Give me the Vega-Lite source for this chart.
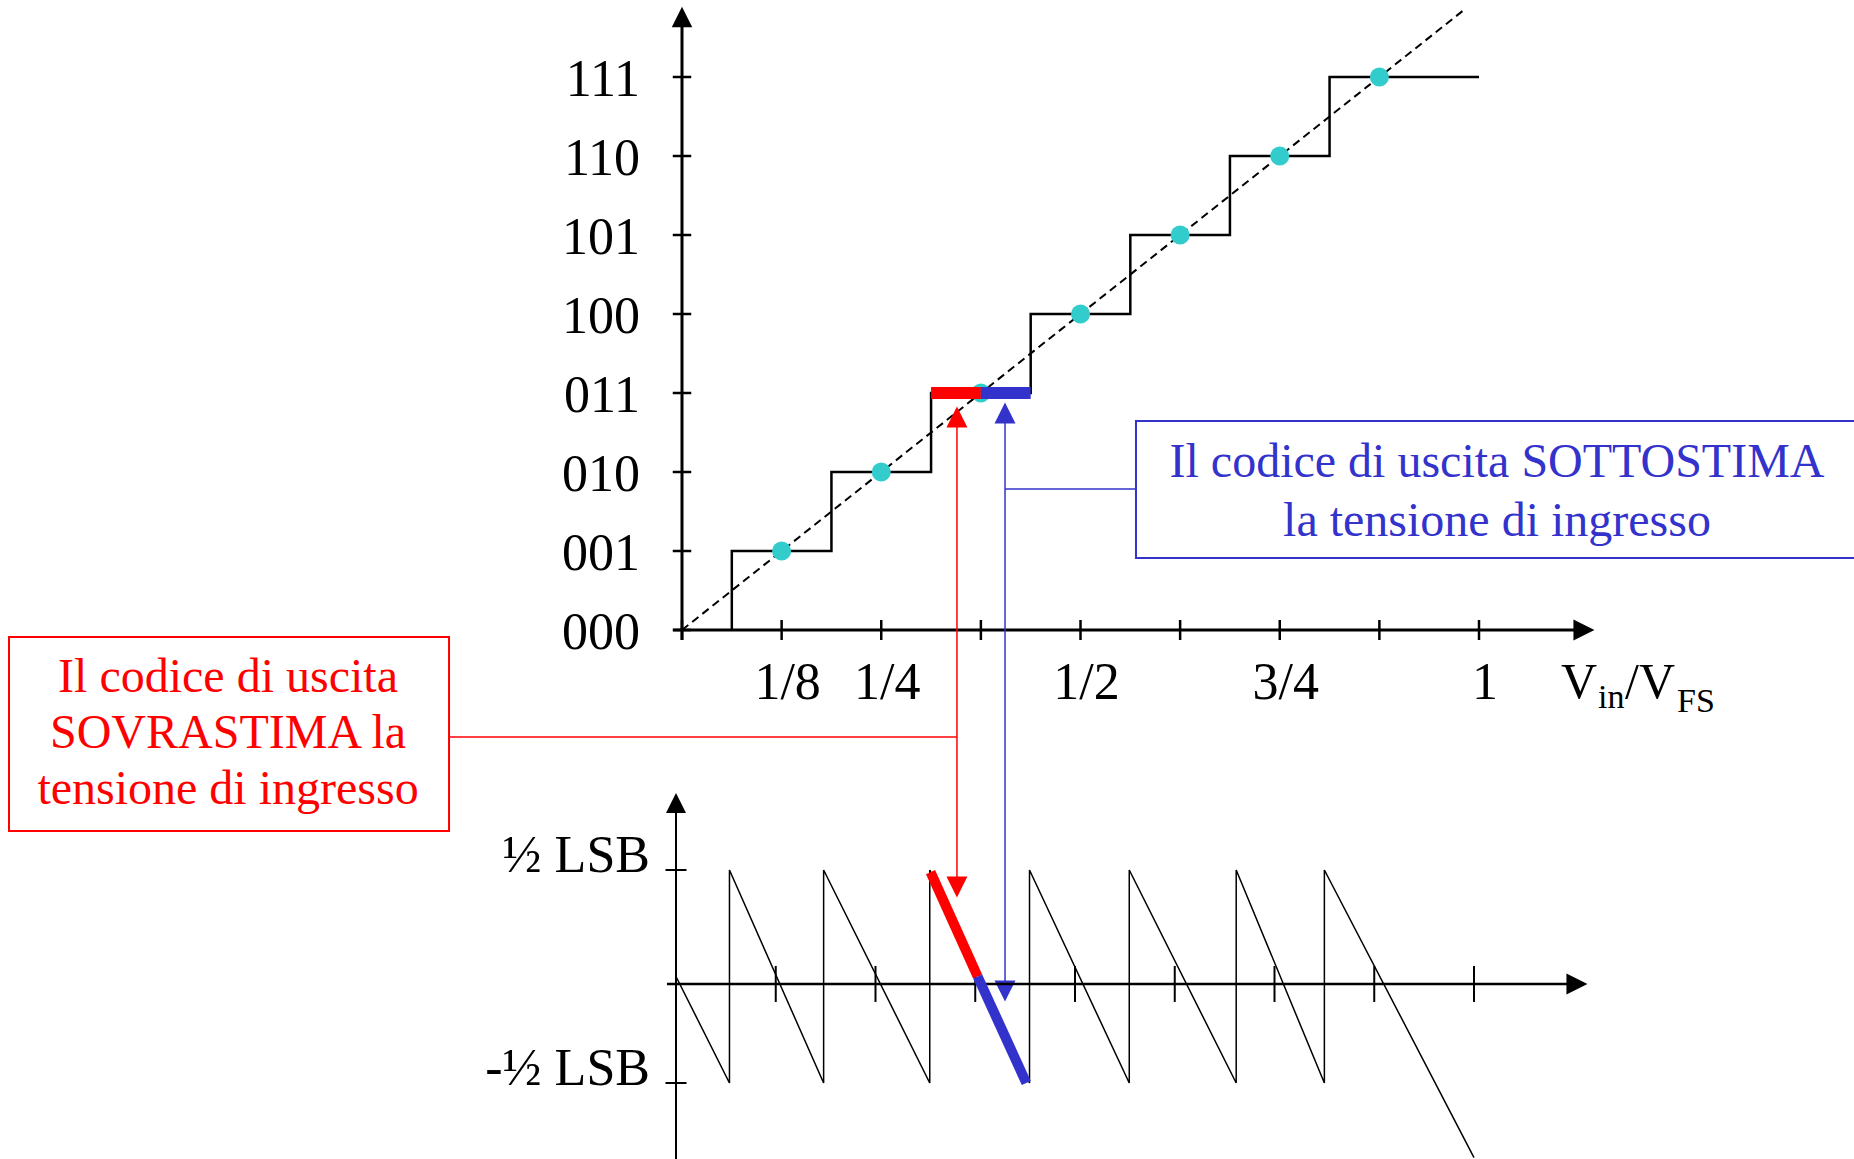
{
  "$schema": "https://vega.github.io/schema/vega-lite/v6.json",
  "width": 1854,
  "height": 1159,
  "autosize": {"type": "none"},
  "padding": 0,
  "background": "white",
  "config": {
    "view": {"stroke": null},
    "axis": {"disable": true},
    "legend": {"disable": true},
    "font": "Liberation Serif",
    "text": {"font": "Liberation Serif"}
  },
  "datasets": {
    "codes": [
      {"code": 0, "label": "000"}, {"code": 1, "label": "001"}, {"code": 2, "label": "010"}, {"code": 3, "label": "011"},
      {"code": 4, "label": "100"}, {"code": 5, "label": "101"}, {"code": 6, "label": "110"}, {"code": 7, "label": "111"}
    ],
    "xticks": [
      {"v": 0}, {"v": 0.125}, {"v": 0.25}, {"v": 0.375}, {"v": 0.5}, {"v": 0.625}, {"v": 0.75}, {"v": 0.875}, {"v": 1}
    ],
    "xlabels": [
      {"v": 0.125, "label": "1/8"}, {"v": 0.25, "label": "1/4"}, {"v": 0.5, "label": "1/2"}, {"v": 0.75, "label": "3/4"}, {"v": 1, "label": "1"}
    ],
    "staircase": [
      {"i": 0, "vin": 0.0625, "code": 0}, {"i": 1, "vin": 0.0625, "code": 1}, {"i": 2, "vin": 0.1875, "code": 1},
      {"i": 3, "vin": 0.1875, "code": 2}, {"i": 4, "vin": 0.3125, "code": 2}, {"i": 5, "vin": 0.3125, "code": 3},
      {"i": 6, "vin": 0.4375, "code": 3}, {"i": 7, "vin": 0.4375, "code": 4}, {"i": 8, "vin": 0.5625, "code": 4},
      {"i": 9, "vin": 0.5625, "code": 5}, {"i": 10, "vin": 0.6875, "code": 5}, {"i": 11, "vin": 0.6875, "code": 6},
      {"i": 12, "vin": 0.8125, "code": 6}, {"i": 13, "vin": 0.8125, "code": 7}, {"i": 14, "vin": 1.0, "code": 7}
    ],
    "ideal": [{"vin": 0, "code": 0}, {"vin": 0.98, "code": 7.84}],
    "centers": [
      {"vin": 0.125, "code": 1}, {"vin": 0.25, "code": 2}, {"vin": 0.375, "code": 3}, {"vin": 0.5, "code": 4},
      {"vin": 0.625, "code": 5}, {"vin": 0.75, "code": 6}, {"vin": 0.875, "code": 7}
    ],
    "codeerr": [
      {"vin": 0.3125, "vin2": 0.375, "code": 3, "kind": "sovrastima"},
      {"vin": 0.375, "vin2": 0.4375, "code": 3, "kind": "sottostima"}
    ],
    "lsb": [{"e": 0.5, "label": "½ LSB"}, {"e": -0.5, "label": "-½ LSB"}],
    "error": [
      {"i": 0, "vin": 0, "e": 0}, {"i": 1, "vin": 0.067, "e": -0.5}, {"i": 2, "vin": 0.067, "e": 0.5},
      {"i": 3, "vin": 0.185, "e": -0.5}, {"i": 4, "vin": 0.185, "e": 0.5}, {"i": 5, "vin": 0.318, "e": -0.5},
      {"i": 6, "vin": 0.318, "e": 0.5}, {"i": 7, "vin": 0.443, "e": -0.5}, {"i": 8, "vin": 0.443, "e": 0.5},
      {"i": 9, "vin": 0.568, "e": -0.5}, {"i": 10, "vin": 0.568, "e": 0.5}, {"i": 11, "vin": 0.702, "e": -0.5},
      {"i": 12, "vin": 0.702, "e": 0.5}, {"i": 13, "vin": 0.8125, "e": -0.5}, {"i": 14, "vin": 0.8125, "e": 0.5},
      {"i": 15, "vin": 1.0, "e": -0.85}
    ],
    "errhl": [
      {"vin": 0.319, "e": 0.49, "kind": "sovrastima"}, {"vin": 0.378, "e": 0, "kind": "sovrastima"},
      {"vin": 0.378, "e": 0, "kind": "sottostima"}, {"vin": 0.439, "e": -0.5, "kind": "sottostima"}
    ]
  },
  "resolve": {"scale": {"x": "independent", "y": "independent", "color": "independent"}},
  "layer": [
    {
      "layer": [
        {"data": {"values": [{}]}, "mark": {"type": "rule", "color": "black", "strokeWidth": 3},
         "encoding": {
           "x": {"datum": 0, "type": "quantitative", "scale": {"domain": [-0.85571, 1.47051], "nice": false, "zero": false}},
           "y": {"datum": -0.127, "type": "quantitative", "scale": {"domain": [-6.6962, 7.9747], "nice": false, "zero": false}},
           "y2": {"datum": 7.7}}},
        {"data": {"values": [{}]}, "mark": {"type": "point", "shape": "M0,-1L1,1L-1,1Z", "filled": true, "color": "black", "opacity": 1, "size": 420, "strokeWidth": 0},
         "encoding": {
           "x": {"datum": 0, "type": "quantitative", "scale": {"domain": [-0.85571, 1.47051], "nice": false, "zero": false}},
           "y": {"datum": 7.759, "type": "quantitative", "scale": {"domain": [-6.6962, 7.9747], "nice": false, "zero": false}}}},
        {"data": {"values": [{}]}, "mark": {"type": "rule", "color": "black", "strokeWidth": 3},
         "encoding": {
           "x": {"datum": -0.0113, "type": "quantitative", "scale": {"domain": [-0.85571, 1.47051], "nice": false, "zero": false}},
           "x2": {"datum": 1.125},
           "y": {"datum": 0, "type": "quantitative", "scale": {"domain": [-6.6962, 7.9747], "nice": false, "zero": false}}}},
        {"data": {"values": [{}]}, "mark": {"type": "point", "shape": "M1,0L-1,-1L-1,1Z", "filled": true, "color": "black", "opacity": 1, "size": 441, "strokeWidth": 0},
         "encoding": {
           "x": {"datum": 1.1317, "type": "quantitative", "scale": {"domain": [-0.85571, 1.47051], "nice": false, "zero": false}},
           "y": {"datum": 0, "type": "quantitative", "scale": {"domain": [-6.6962, 7.9747], "nice": false, "zero": false}}}},
        {"data": {"name": "codes"}, "mark": {"type": "point", "shape": "M-1,0H1", "filled": false, "color": "black", "opacity": 1, "size": 342, "strokeWidth": 2.5},
         "encoding": {
           "x": {"datum": 0, "type": "quantitative", "scale": {"domain": [-0.85571, 1.47051], "nice": false, "zero": false}},
           "y": {"field": "code", "type": "quantitative", "scale": {"domain": [-6.6962, 7.9747], "nice": false, "zero": false}}}},
        {"data": {"name": "xticks"}, "mark": {"type": "point", "shape": "M0,-1V1", "filled": false, "color": "black", "opacity": 1, "size": 400, "strokeWidth": 2.5},
         "encoding": {
           "x": {"field": "v", "type": "quantitative", "scale": {"domain": [-0.85571, 1.47051], "nice": false, "zero": false}},
           "y": {"datum": 0, "type": "quantitative", "scale": {"domain": [-6.6962, 7.9747], "nice": false, "zero": false}}}},
        {"data": {"name": "codes"}, "mark": {"type": "text", "align": "right", "baseline": "middle", "dy": 3, "fontSize": 52, "color": "black"},
         "encoding": {
           "x": {"datum": -0.0527, "type": "quantitative", "scale": {"domain": [-0.85571, 1.47051], "nice": false, "zero": false}},
           "y": {"field": "code", "type": "quantitative", "scale": {"domain": [-6.6962, 7.9747], "nice": false, "zero": false}},
           "text": {"field": "label"}}},
        {"data": {"name": "xlabels"}, "mark": {"type": "text", "align": "center", "baseline": "top", "dx": 6, "dy": 28, "fontSize": 52, "color": "black"},
         "encoding": {
           "x": {"field": "v", "type": "quantitative", "scale": {"domain": [-0.85571, 1.47051], "nice": false, "zero": false}},
           "y": {"datum": 0, "type": "quantitative", "scale": {"domain": [-6.6962, 7.9747], "nice": false, "zero": false}},
           "text": {"field": "label"}}},
        {"data": {"values": [{}]}, "mark": {"type": "text", "text": "V", "align": "left", "baseline": "alphabetic", "fontSize": 50, "color": "black"},
         "encoding": {
           "x": {"datum": 1.1029, "type": "quantitative", "scale": {"domain": [-0.85571, 1.47051], "nice": false, "zero": false}},
           "y": {"datum": -0.8608, "type": "quantitative", "scale": {"domain": [-6.6962, 7.9747], "nice": false, "zero": false}}}},
        {"data": {"values": [{}]}, "mark": {"type": "text", "text": "in", "align": "left", "baseline": "alphabetic", "fontSize": 34, "color": "black"},
         "encoding": {
           "x": {"datum": 1.1493, "type": "quantitative", "scale": {"domain": [-0.85571, 1.47051], "nice": false, "zero": false}},
           "y": {"datum": -0.9873, "type": "quantitative", "scale": {"domain": [-6.6962, 7.9747], "nice": false, "zero": false}}}},
        {"data": {"values": [{}]}, "mark": {"type": "text", "text": "/V", "align": "left", "baseline": "alphabetic", "fontSize": 50, "color": "black"},
         "encoding": {
           "x": {"datum": 1.1832, "type": "quantitative", "scale": {"domain": [-0.85571, 1.47051], "nice": false, "zero": false}},
           "y": {"datum": -0.8608, "type": "quantitative", "scale": {"domain": [-6.6962, 7.9747], "nice": false, "zero": false}}}},
        {"data": {"values": [{}]}, "mark": {"type": "text", "text": "FS", "align": "left", "baseline": "alphabetic", "fontSize": 34, "color": "black"},
         "encoding": {
           "x": {"datum": 1.2484, "type": "quantitative", "scale": {"domain": [-0.85571, 1.47051], "nice": false, "zero": false}},
           "y": {"datum": -1.038, "type": "quantitative", "scale": {"domain": [-6.6962, 7.9747], "nice": false, "zero": false}}}},
        {"data": {"name": "staircase"}, "mark": {"type": "line", "color": "black", "strokeWidth": 2.5, "strokeJoin": "miter"},
         "encoding": {
           "x": {"field": "vin", "type": "quantitative", "scale": {"domain": [-0.85571, 1.47051], "nice": false, "zero": false}},
           "y": {"field": "code", "type": "quantitative", "scale": {"domain": [-6.6962, 7.9747], "nice": false, "zero": false}},
           "order": {"field": "i", "type": "quantitative"}}},
        {"data": {"name": "ideal"}, "mark": {"type": "line", "color": "black", "strokeWidth": 2, "strokeDash": [8, 5]},
         "encoding": {
           "x": {"field": "vin", "type": "quantitative", "scale": {"domain": [-0.85571, 1.47051], "nice": false, "zero": false}},
           "y": {"field": "code", "type": "quantitative", "scale": {"domain": [-6.6962, 7.9747], "nice": false, "zero": false}}}},
        {"data": {"name": "centers"}, "mark": {"type": "point", "shape": "circle", "filled": true, "color": "#33CCCC", "opacity": 1, "size": 361, "strokeWidth": 0},
         "encoding": {
           "x": {"field": "vin", "type": "quantitative", "scale": {"domain": [-0.85571, 1.47051], "nice": false, "zero": false}},
           "y": {"field": "code", "type": "quantitative", "scale": {"domain": [-6.6962, 7.9747], "nice": false, "zero": false}}}},
        {"data": {"name": "codeerr"}, "mark": {"type": "rule", "strokeWidth": 12, "strokeCap": "butt"},
         "encoding": {
           "x": {"field": "vin", "type": "quantitative", "scale": {"domain": [-0.85571, 1.47051], "nice": false, "zero": false}},
           "x2": {"field": "vin2"},
           "y": {"field": "code", "type": "quantitative", "scale": {"domain": [-6.6962, 7.9747], "nice": false, "zero": false}},
           "color": {"field": "kind", "type": "nominal", "scale": {"domain": ["sovrastima", "sottostima"], "range": ["#FF0000", "#3333CC"]}, "legend": null}}},
        {"data": {"values": [{}]}, "mark": {"type": "rule", "color": "#FF0000", "strokeWidth": 1.5},
         "encoding": {
           "x": {"datum": -0.2923, "type": "quantitative", "scale": {"domain": [-0.85571, 1.47051], "nice": false, "zero": false}},
           "x2": {"datum": 0.345},
           "y": {"datum": -1.354, "type": "quantitative", "scale": {"domain": [-6.6962, 7.9747], "nice": false, "zero": false}}}},
        {"data": {"values": [{}]}, "mark": {"type": "rule", "color": "#3333CC", "strokeWidth": 1.5},
         "encoding": {
           "x": {"datum": 0.4053, "type": "quantitative", "scale": {"domain": [-0.85571, 1.47051], "nice": false, "zero": false}},
           "x2": {"datum": 0.5696},
           "y": {"datum": 1.785, "type": "quantitative", "scale": {"domain": [-6.6962, 7.9747], "nice": false, "zero": false}}}},
        {"data": {"values": [{}]}, "mark": {"type": "rule", "color": "#FF0000", "strokeWidth": 1.5},
         "encoding": {
           "x": {"datum": 0.345, "type": "quantitative", "scale": {"domain": [-0.85571, 1.47051], "nice": false, "zero": false}},
           "y": {"datum": 2.57, "type": "quantitative", "scale": {"domain": [-6.6962, 7.9747], "nice": false, "zero": false}},
           "y2": {"datum": -3.127}}},
        {"data": {"values": [{}]}, "mark": {"type": "rule", "color": "#3333CC", "strokeWidth": 1.5},
         "encoding": {
           "x": {"datum": 0.4053, "type": "quantitative", "scale": {"domain": [-0.85571, 1.47051], "nice": false, "zero": false}},
           "y": {"datum": 2.62, "type": "quantitative", "scale": {"domain": [-6.6962, 7.9747], "nice": false, "zero": false}},
           "y2": {"datum": -4.443}}},
        {"data": {"values": [{}]}, "mark": {"type": "point", "shape": "M0,-1L1,1L-1,1Z", "filled": true, "color": "#FF0000", "opacity": 1, "size": 441, "strokeWidth": 0},
         "encoding": {
           "x": {"datum": 0.345, "type": "quantitative", "scale": {"domain": [-0.85571, 1.47051], "nice": false, "zero": false}},
           "y": {"datum": 2.696, "type": "quantitative", "scale": {"domain": [-6.6962, 7.9747], "nice": false, "zero": false}}}},
        {"data": {"values": [{}]}, "mark": {"type": "point", "shape": "M0,-1L1,1L-1,1Z", "filled": true, "color": "#3333CC", "opacity": 1, "size": 441, "strokeWidth": 0},
         "encoding": {
           "x": {"datum": 0.4053, "type": "quantitative", "scale": {"domain": [-0.85571, 1.47051], "nice": false, "zero": false}},
           "y": {"datum": 2.747, "type": "quantitative", "scale": {"domain": [-6.6962, 7.9747], "nice": false, "zero": false}}}},
        {"data": {"values": [{}]}, "mark": {"type": "point", "shape": "M0,1L1,-1L-1,-1Z", "filled": true, "color": "#FF0000", "opacity": 1, "size": 441, "strokeWidth": 0},
         "encoding": {
           "x": {"datum": 0.345, "type": "quantitative", "scale": {"domain": [-0.85571, 1.47051], "nice": false, "zero": false}},
           "y": {"datum": -3.253, "type": "quantitative", "scale": {"domain": [-6.6962, 7.9747], "nice": false, "zero": false}}}},
        {"data": {"values": [{}]}, "mark": {"type": "point", "shape": "M0,1L1,-1L-1,-1Z", "filled": true, "color": "#3333CC", "opacity": 1, "size": 441, "strokeWidth": 0},
         "encoding": {
           "x": {"datum": 0.4053, "type": "quantitative", "scale": {"domain": [-0.85571, 1.47051], "nice": false, "zero": false}},
           "y": {"datum": -4.57, "type": "quantitative", "scale": {"domain": [-6.6962, 7.9747], "nice": false, "zero": false}}}},
        {"data": {"values": [{}]}, "mark": {"type": "rect", "fill": "white", "stroke": "#FF0000", "strokeWidth": 2},
         "encoding": {
           "x": {"datum": -0.8444, "type": "quantitative", "scale": {"domain": [-0.85571, 1.47051], "nice": false, "zero": false}},
           "x2": {"datum": -0.2923},
           "y": {"datum": -0.0886, "type": "quantitative", "scale": {"domain": [-6.6962, 7.9747], "nice": false, "zero": false}},
           "y2": {"datum": -2.544}}},
        {"data": {"values": [{}]}, "mark": {"type": "rect", "fill": "white", "stroke": "#3333CC", "strokeWidth": 2},
         "encoding": {
           "x": {"datum": 0.5696, "type": "quantitative", "scale": {"domain": [-0.85571, 1.47051], "nice": false, "zero": false}},
           "x2": {"datum": 1.48},
           "y": {"datum": 2.646, "type": "quantitative", "scale": {"domain": [-6.6962, 7.9747], "nice": false, "zero": false}},
           "y2": {"datum": 0.911}}},
        {"data": {"values": [{}]}, "mark": {"type": "text", "text": ["Il codice di uscita", "SOVRASTIMA la", "tensione di ingresso"], "lineHeight": 56, "align": "center", "baseline": "alphabetic", "fontSize": 48, "color": "#FF0000"},
         "encoding": {
           "x": {"datum": -0.5696, "type": "quantitative", "scale": {"domain": [-0.85571, 1.47051], "nice": false, "zero": false}},
           "y": {"datum": -0.7848, "type": "quantitative", "scale": {"domain": [-6.6962, 7.9747], "nice": false, "zero": false}}}},
        {"data": {"values": [{}]}, "mark": {"type": "text", "text": ["Il codice di uscita SOTTOSTIMA", "la tensione di ingresso"], "lineHeight": 59, "align": "center", "baseline": "alphabetic", "fontSize": 48, "color": "#3333CC"},
         "encoding": {
           "x": {"datum": 1.0226, "type": "quantitative", "scale": {"domain": [-0.85571, 1.47051], "nice": false, "zero": false}},
           "y": {"datum": 1.9367, "type": "quantitative", "scale": {"domain": [-6.6962, 7.9747], "nice": false, "zero": false}}}}
      ]
    },
    {
      "layer": [
        {"data": {"values": [{}]}, "mark": {"type": "rule", "color": "black", "strokeWidth": 2},
         "encoding": {
           "x": {"datum": 0, "type": "quantitative", "scale": {"domain": [-0.84712, 1.47619], "nice": false, "zero": false}},
           "y": {"datum": -0.86, "type": "quantitative", "scale": {"domain": [-0.85681, 4.58451], "nice": false, "zero": false}},
           "y2": {"datum": 0.78}}},
        {"data": {"values": [{}]}, "mark": {"type": "point", "shape": "M0,-1L1,1L-1,1Z", "filled": true, "color": "black", "opacity": 1, "size": 400, "strokeWidth": 0},
         "encoding": {
           "x": {"datum": 0, "type": "quantitative", "scale": {"domain": [-0.84712, 1.47619], "nice": false, "zero": false}},
           "y": {"datum": 0.8146, "type": "quantitative", "scale": {"domain": [-0.85681, 4.58451], "nice": false, "zero": false}}}},
        {"data": {"values": [{}]}, "mark": {"type": "rule", "color": "black", "strokeWidth": 2.5},
         "encoding": {
           "x": {"datum": -0.0113, "type": "quantitative", "scale": {"domain": [-0.84712, 1.47619], "nice": false, "zero": false}},
           "x2": {"datum": 1.12},
           "y": {"datum": -0.035, "type": "quantitative", "scale": {"domain": [-0.85681, 4.58451], "nice": false, "zero": false}}}},
        {"data": {"values": [{}]}, "mark": {"type": "point", "shape": "M1,0L-1,-1L-1,1Z", "filled": true, "color": "black", "opacity": 1, "size": 441, "strokeWidth": 0},
         "encoding": {
           "x": {"datum": 1.129, "type": "quantitative", "scale": {"domain": [-0.84712, 1.47619], "nice": false, "zero": false}},
           "y": {"datum": -0.035, "type": "quantitative", "scale": {"domain": [-0.85681, 4.58451], "nice": false, "zero": false}}}},
        {"data": {"name": "lsb"}, "mark": {"type": "point", "shape": "M-1,0H1", "filled": false, "color": "black", "opacity": 1, "size": 441, "strokeWidth": 2},
         "encoding": {
           "x": {"datum": 0, "type": "quantitative", "scale": {"domain": [-0.84712, 1.47619], "nice": false, "zero": false}},
           "y": {"field": "e", "type": "quantitative", "scale": {"domain": [-0.85681, 4.58451], "nice": false, "zero": false}}}},
        {"data": {"name": "xticks"}, "mark": {"type": "point", "shape": "M0,-1V1", "filled": false, "color": "black", "opacity": 1, "size": 1296, "strokeWidth": 2},
         "encoding": {
           "x": {"field": "v", "type": "quantitative", "scale": {"domain": [-0.84712, 1.47619], "nice": false, "zero": false}},
           "y": {"datum": -0.035, "type": "quantitative", "scale": {"domain": [-0.85681, 4.58451], "nice": false, "zero": false}}}},
        {"data": {"name": "lsb"}, "mark": {"type": "text", "align": "right", "baseline": "alphabetic", "dy": 2, "fontSize": 52, "color": "black"},
         "encoding": {
           "x": {"datum": -0.0326, "type": "quantitative", "scale": {"domain": [-0.84712, 1.47619], "nice": false, "zero": false}},
           "y": {"field": "e", "type": "quantitative", "scale": {"domain": [-0.85681, 4.58451], "nice": false, "zero": false}},
           "text": {"field": "label"}}},
        {"data": {"name": "error"}, "mark": {"type": "line", "color": "black", "strokeWidth": 1.5, "strokeJoin": "miter"},
         "encoding": {
           "x": {"field": "vin", "type": "quantitative", "scale": {"domain": [-0.84712, 1.47619], "nice": false, "zero": false}},
           "y": {"field": "e", "type": "quantitative", "scale": {"domain": [-0.85681, 4.58451], "nice": false, "zero": false}},
           "order": {"field": "i", "type": "quantitative"}}},
        {"data": {"name": "errhl"}, "mark": {"type": "line", "strokeWidth": 10, "strokeCap": "butt"},
         "encoding": {
           "x": {"field": "vin", "type": "quantitative", "scale": {"domain": [-0.84712, 1.47619], "nice": false, "zero": false}},
           "y": {"field": "e", "type": "quantitative", "scale": {"domain": [-0.85681, 4.58451], "nice": false, "zero": false}},
           "color": {"field": "kind", "type": "nominal", "scale": {"domain": ["sovrastima", "sottostima"], "range": ["#FF0000", "#3333CC"]}, "legend": null}}}
      ]
    }
  ]
}
